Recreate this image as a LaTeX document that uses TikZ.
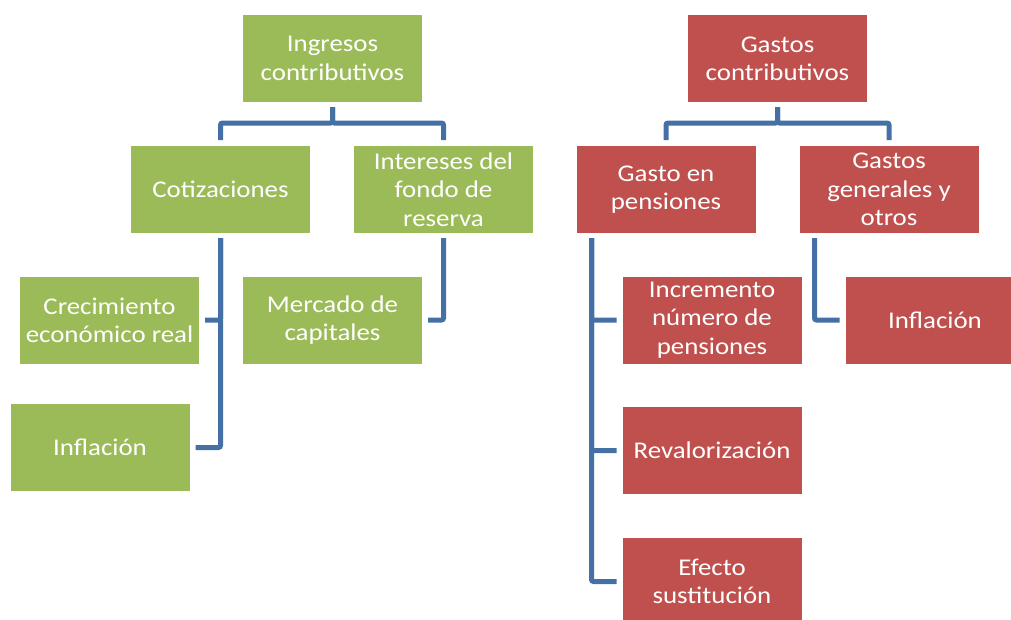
\documentclass[tikz,border=0pt]{standalone}
\usepackage{fontspec}
\setmainfont{Carlito}[FakeStretch=1.12]
\usepackage{tikz}
\usetikzlibrary{calc}
\definecolor{ingverde}{RGB}{155,187,89}
\definecolor{gasrojo}{RGB}{192,80,77}
\definecolor{linazul}{RGB}{68,112,165}
\tikzset{
  caja/.style={minimum width=179pt, minimum height=87pt, inner sep=0pt, outer sep=0pt,
    align=center, text=white, font=\fontsize{24}{28.3}\selectfont},
  ingreso/.style={caja, fill=ingverde},
  gasto/.style={caja, fill=gasrojo},
  enlace/.style={draw=linazul, line width=5pt, rounded corners=2pt, shorten <=5pt, shorten >=6pt}
}

\begin{document}
\begin{tikzpicture}[x=1pt, y=-1pt]
			%%%%% START %%%%%
			\useasboundingbox (0, 0) rectangle (1011, 619);
			\clip (0, 0) rectangle (1011, 619);
			
			% ingresos
			\node[ingreso] (ing) at (332.5, 58.5) {Ingresos\\contributivos};
			\node[ingreso] (cot) at (220.5, 189.5) {Cotizaciones};
			\node[ingreso] (int) at (443.5, 189.5) {Intereses del\\fondo de\\reserva};
			\node[ingreso] (cre) at (109.5, 320) {Crecimiento\\económico real};
			\node[ingreso] (infi) at (100, 447.5) {Inflación};
			\node[ingreso] (mer) at (332.5, 320) {Mercado de\\capitales};
			
			\draw[enlace] (ing.south) -- ++(0, 21) -| (cot.north);
			\draw[enlace] (ing.south) -- ++(0, 21) -| (int.north);
			\draw[enlace] (cot.south) |- (cre.east);
			\draw[enlace] (cot.south) |- (infi.east);
			\draw[enlace] (int.south) |- (mer.east);
			
			% gastos
			\node[gasto] (gas) at (777.5, 58.5) {Gastos\\contributivos};
			\node[gasto] (pen) at (666, 189.5) {Gasto en\\pensiones};
			\node[gasto] (gen) at (889, 189.5) {Gastos\\generales y\\otros};
			\node[gasto] (inc) at (712, 320) {Incremento\\número de\\pensiones};
			\node[gasto] (rev) at (712, 450.5) {Revalorización};
			\node[gasto] (efe) at (712, 581.5) {Efecto\\sustitución};
			\node[gasto] (infg) at (935, 320) {Inflación};
			
			\draw[enlace] (gas.south) -- ++(0, 21) -| (pen.north);
			\draw[enlace] (gas.south) -- ++(0, 21) -| (gen.north);
			\draw[enlace] ([xshift=15pt]pen.south west) |- (inc.west);
			\draw[enlace] ([xshift=15pt]pen.south west) |- (rev.west);
			\draw[enlace] ([xshift=15pt]pen.south west) |- (efe.west);
			\draw[enlace] ([xshift=15pt]gen.south west) |- (infg.west);
			
			%%%%% END %%%%%
\end{tikzpicture}
\end{document}
